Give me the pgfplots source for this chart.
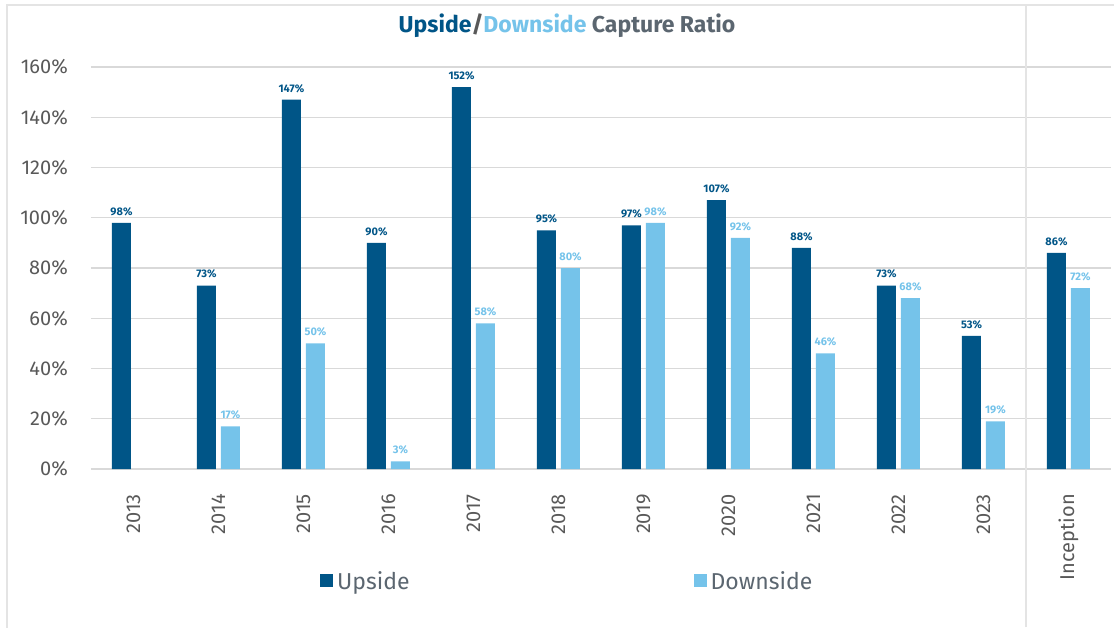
\documentclass[border=0pt]{standalone}
\usepackage{fontspec}
\setmainfont{Fira Sans}
\usepackage{pgfplots}
\pgfplotsset{compat=1.18}
\definecolor{upc}{RGB}{0,85,135}
\definecolor{dnc}{RGB}{117,195,234}
\definecolor{txtg}{RGB}{89,89,89}
\definecolor{ttlg}{RGB}{91,102,112}
\definecolor{gridg}{RGB}{217,217,217}
\definecolor{frameg}{RGB}{228,228,228}
\begin{document}
\begin{tikzpicture}
\useasboundingbox (-91pt,-158pt) rectangle (1023pt,469pt);
\begin{axis}[
  at={(0,0)}, anchor=south west,
  scale only axis, width=1020pt, height=402pt,
  xmin=-0.5, xmax=11.5, ymin=0, ymax=160,
  enlargelimits=false,
  ybar, bar width=19pt,
  axis line style={draw=none},
  major tick length=0pt,
  /pgf/number format/assume math mode=true,
  ytick={0,20,...,160},
  yticklabels={0\%,20\%,40\%,60\%,80\%,100\%,120\%,140\%,160\%},
  yticklabel style={font=\fontsize{20}{20}\selectfont, text=txtg, anchor=east, inner sep=0pt, xshift=-23pt},
  ymajorgrids, grid style={gridg, line width=1.2pt},
  xtick={0,1,2,3,4,5,6,7,8,9,10,11},
  xticklabels={2013,2014,2015,2016,2017,2018,2019,2020,2021,2022,2023,Inception},
  xticklabel style={rotate=90, anchor=east, font=\fontsize{20}{20}\selectfont, text=txtg, inner sep=0pt, xshift=-25pt},
  clip=false,
  legend style={at={(0.2245,-0.2786)}, anchor=west, draw=none, fill=none, inner sep=0pt,
    legend columns=2, font=\fontsize{23}{23}\selectfont, text=ttlg,
    nodes={inner xsep=4pt, inner ysep=2pt},
    /tikz/every even column/.append style={column sep=280pt}},
  legend image code/.code={\fill[#1] (0pt,-6.5pt) rectangle (13pt,6.5pt);},
  title={\bfseries\textcolor{upc}{Upside}\textcolor{txtg}{/}\textcolor{dnc}{Downside} \textcolor{ttlg}{Capture Ratio}},
  title style={at={(0.4667,1.0871)}, anchor=center, font=\fontsize{23}{23}\selectfont},
]
\addplot[fill=upc, draw=none, bar shift=-12pt,
  point meta=y,
  nodes near coords={\pgfmathprintnumber[fixed,precision=0]{\pgfplotspointmeta}\%},
  every node near coord/.append style={font=\bfseries\fontsize{11}{11}\selectfont, text=upc, inner sep=0pt, yshift=7pt}]
  coordinates {(0,98) (1,73) (2,147) (3,90) (4,152) (5,95) (6,97) (7,107) (8,88) (9,73) (10,53) (11,86)};
\addlegendentry{Upside}
\addplot[fill=dnc, draw=none, bar shift=12pt,
  point meta=y,
  nodes near coords={\pgfmathprintnumber[fixed,precision=0]{\pgfplotspointmeta}\%},
  every node near coord/.append style={font=\bfseries\fontsize{11}{11}\selectfont, text=dnc, inner sep=0pt, yshift=7pt}]
  coordinates {(1,17) (2,50) (3,3) (4,58) (5,80) (6,98) (7,92) (8,46) (9,68) (10,19) (11,72)};
\addlegendentry{Downside}
\draw[frameg, line width=1.5pt] (axis cs:10.5,-63) -- (axis cs:10.5,184.7);
\end{axis}
\draw[frameg, line width=1.5pt] (-84pt,-160pt) -- (-84pt,464pt) -- (1025pt,464pt);
\end{tikzpicture}
\end{document}
